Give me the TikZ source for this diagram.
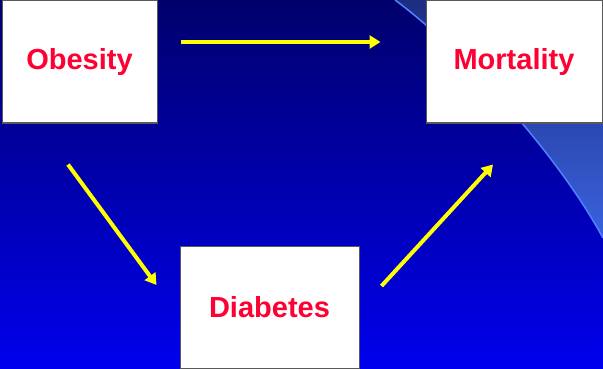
\documentclass[tikz,border=0pt]{standalone}
\usepackage{fontspec}
\setmainfont{Liberation Sans}
\usepackage{tikz}
\usetikzlibrary{arrows.meta}
\definecolor{bgtop}{RGB}{0,0,108}
\definecolor{bgbot}{RGB}{0,0,238}
\definecolor{swtop}{RGB}{28,44,128}
\definecolor{swbot}{RGB}{58,98,222}
\definecolor{swline}{RGB}{80,130,255}
\definecolor{boxred}{RGB}{255,0,51}
\definecolor{arrowyellow}{RGB}{255,255,0}
\begin{document}
\begin{tikzpicture}[x=1pt,y=-1pt]
            \tikzset{
                factor/.style={draw=black!65,line width=1pt,fill=white,text=boxred,
                    font=\fontsize{29}{29}\selectfont\bfseries,inner sep=0pt},
                link/.style={draw=arrowyellow,line width=4pt,-{Triangle[length=11pt,width=13pt]}},}
            \def\swoosh{(395,0) .. controls (460,48) and (555,150) .. (603,238)}
            \useasboundingbox (0,0) rectangle (603,369);
            \shade[top color=bgtop,bottom color=bgbot] (0,0) rectangle (603,369);
            \begin{scope}
                \clip (0,0) rectangle (603,369);
                \shade[top color=swtop,bottom color=swbot] \swoosh -- (610,238) -- (610,-5) -- (395,-5) -- cycle;
                \draw[swline,line width=1.5pt] \swoosh;
            \end{scope}
            \node[factor,minimum width=155pt,minimum height=122pt] (obesity) at (79.5,62) {Obesity};
            \node[factor,minimum width=176pt,minimum height=122pt] (mortality) at (514,62) {Mortality};
            \node[factor,minimum width=179pt,minimum height=122pt] (diabetes) at (269.5,307) {Diabetes};
            \draw[link] ([shift={(23,-20)}]obesity.east) -- ([shift={(-45,-20)}]mortality.west);
            \draw[link] ([shift={(-11.5,41)}]obesity.south) -- ([shift={(-23,-22)}]diabetes.west);
            \draw[link] ([shift={(22,-21)}]diabetes.east) -- ([shift={(-21,41)}]mortality.south);
        \end{tikzpicture}
\end{document}
